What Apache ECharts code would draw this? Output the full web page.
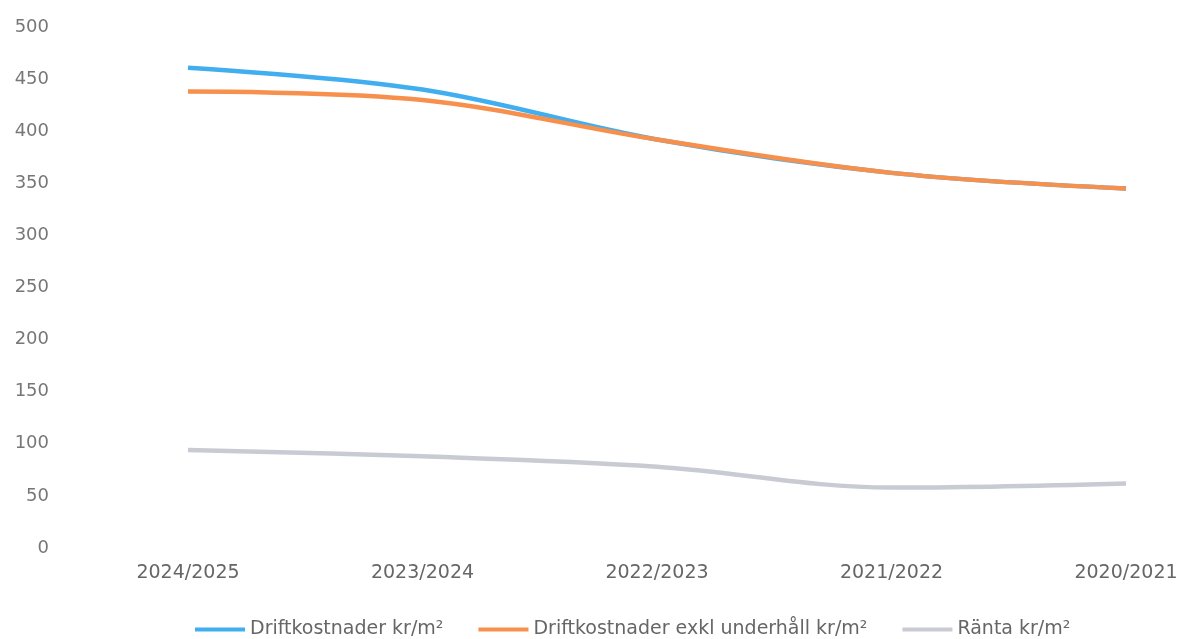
<!DOCTYPE html>
<html><head><meta charset="utf-8">
<script src="https://cdn.jsdelivr.net/npm/echarts@6/dist/echarts.min.js"></script>
<style>html,body{margin:0;padding:0;background:#fff}#c{width:1183px;height:639px}</style>
</head><body><div id="c"></div>
<script>
const categories = ['2024/2025', '2023/2024', '2022/2023', '2021/2022', '2020/2021'];
const drift = [461, 440, 392, 360, 345];
const driftExkl = [438, 430, 392, 360, 345];
const ranta = [94, 88, 78, 58, 62];
const yTicks = { min: 0, max: 500, interval: 50 };
const names = ['Driftkostnader kr/m²', 'Driftkostnader exkl underhåll kr/m²', 'Ränta kr/m²'];
const colors = ['#41aef0', '#f7904d', '#c9cbd3'];

const chart = echarts.init(document.getElementById('c'), null, { renderer: 'canvas' });
const font = 'DejaVu Sans, sans-serif';
function line(name, data, color, z) {
  return { name, type: 'line', data, smooth: 0.35, symbol: 'none', z,
    lineStyle: { color, width: 4.5 }, itemStyle: { color } };
}
chart.setOption({
  animation: false,
  backgroundColor: '#fff',
  grid: { left: 188, right: 57, top: 27, bottom: 91 },
  xAxis: { type: 'category', data: categories, boundaryGap: false,
    axisLine: { show: false }, axisTick: { show: false }, splitLine: { show: false },
    axisLabel: { color: '#666', fontSize: 19, fontFamily: font, margin: 16 } },
  yAxis: { type: 'value', min: yTicks.min, max: yTicks.max, interval: yTicks.interval,
    axisLine: { show: false }, axisTick: { show: false }, splitLine: { show: false },
    axisLabel: { color: '#777', fontSize: 18, fontFamily: font, margin: 139 } },
  legend: { top: 615, left: 190, itemWidth: 50, itemHeight: 4, itemGap: 35,
    icon: 'rect', textStyle: { color: '#666', fontSize: 19, fontFamily: font },
    data: names },
  series: [
    line(names[0], drift, colors[0], 2),
    line(names[1], driftExkl, colors[1], 3),
    line(names[2], ranta, colors[2], 2)
  ]
});
</script></body></html>
